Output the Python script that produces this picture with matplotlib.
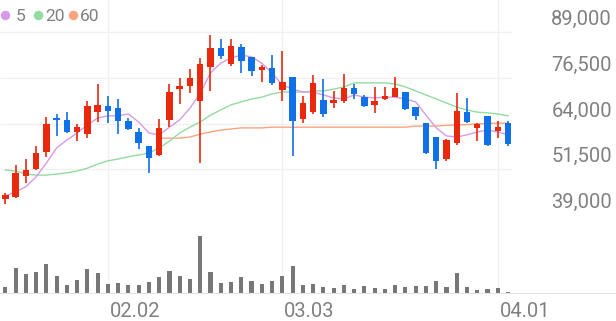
import matplotlib.pyplot as plt
import matplotlib.transforms as mtransforms
from matplotlib.lines import Line2D
import numpy as np

# 일봉 데이터 (시가, 고가, 저가, 종가)
opens  = [43400, 43900, 49700, 51600, 56200, 65500, 65000, 61700, 61100, 67100,
          68800, 68200, 64700, 61700, 57900, 55400, 65000, 73400, 74200, 70100,
          79400, 84600, 80300, 84900, 82200, 78600, 79200, 73200, 76700, 65200,
          67100, 70400, 69600, 70100, 73700, 71200, 69100, 70700, 71200, 72600,
          68500, 64100, 60300, 54300, 58700, 67100, 62800, 66100, 62000, 64100]
highs  = [45000, 52700, 54300, 57900, 65800, 66600, 67100, 63900, 70100, 74800,
          71500, 70700, 65500, 62800, 57900, 65200, 74800, 76400, 78900, 81900,
          88200, 87100, 87100, 85700, 82200, 80000, 82700, 83800, 76700, 71500,
          77300, 76200, 72900, 77500, 74800, 71800, 74000, 74000, 76700, 72600,
          68500, 64100, 60300, 59800, 72300, 71000, 64100, 66100, 64700, 64700]
lows   = [42000, 43600, 47700, 51300, 54900, 60600, 61400, 59200, 60000, 64400,
          64100, 61100, 62200, 57000, 50500, 55100, 63000, 69300, 72300, 53200,
          72900, 81600, 79700, 77800, 77000, 75300, 74500, 70100, 55100, 64100,
          66600, 65800, 68200, 69600, 70700, 68500, 66900, 70400, 71200, 67800,
          65000, 55700, 51600, 53800, 58100, 64100, 59200, 57900, 60000, 57900]
closes = [44500, 50500, 51300, 55900, 63900, 65000, 61700, 63000, 68800, 69100,
          67400, 64700, 62500, 58700, 54600, 62800, 72600, 74200, 76400, 80300,
          84600, 82400, 85200, 81100, 78300, 79400, 75100, 75300, 64700, 69600,
          75100, 66600, 70400, 73700, 72100, 68800, 70100, 71500, 73700, 68000,
          66100, 55900, 53800, 59500, 67400, 64400, 63900, 58100, 63000, 58400]
# 거래량 (천주)
volumes = [600, 2560, 1970, 2130, 2930, 1730, 800, 1330, 2400, 2030,
           900, 1030, 800, 800, 1170, 1630, 2230, 1730, 1400, 5770,
           2170, 1030, 1170, 1600, 1200, 900, 1200, 1730, 2770, 800,
           970, 600, 570, 800, 430, 730, 500, 430, 800, 630,
           700, 770, 1270, 600, 2030, 600, 330, 400, 500, 170]

# 이동평균선
ma5 = [44200, 45300, 46700, 49400, 53200, 57300, 59500, 61400, 63600, 65500,
       66100, 66100, 66600, 64400, 61400, 60900, 63000, 65000, 68200, 72300,
       77800, 80500, 81900, 82700, 82200, 80500, 77800, 74500, 73400, 72600,
       72600, 71800, 71000, 70700, 71800, 71200, 71000, 71200, 71200, 70700,
       69900, 66300, 62800, 60600, 60300, 60900, 61700, 62200, 61700, 60900]
ma20 = [51300, 51000, 50200, 49900, 49900, 50200, 50500, 51000, 51800, 52900,
        53800, 54300, 54900, 55400, 55900, 57300, 59200, 61400, 63000, 64400,
        66300, 67700, 69100, 69900, 70700, 71200, 72100, 72600, 72600, 72600,
        72900, 72900, 73400, 74000, 75100, 75100, 75100, 75100, 74800, 74000,
        72900, 71800, 70700, 69600, 68500, 67700, 67100, 66900, 66600, 66100]
ma60 = [None] * 15 + [
        60000, 60000, 60000, 60300, 61100, 61700, 62200, 62500, 62800, 62800,
        62800, 63000, 63000, 63000, 63000, 63000, 63000, 63000, 63000, 63000,
        63000, 63000, 63000, 63000, 63000, 63300, 63300, 63300, 63500, 63600,
        63700, 63900, 64000, 64100, 64100]

ytick_vals = [39000, 51500, 64000, 76500, 89000]
xtick_pos = [10, 27, 48]
xtick_labels = ['02.02', '03.03', '04.01']

RED = '#e8290e'
BLUE = '#1070e8'
GRID = '#f0f0f0'
TXT = '#808080'
FONT = 'Roboto'

W, H = 616, 321
fig = plt.figure(figsize=(W / 100, H / 100), dpi=100)

step = 10.26
x0 = 5.3
xmin = -x0 / step
xmax = (W - x0) / step
grid_end = (512 - x0) / step

# 가격 패널
ax = fig.add_axes([0, (H - 215) / H, 1, 215 / H])
ax.set_xlim(xmin, xmax)
ppx = 50000 / 183
ax.set_ylim(39000, 89000 + 32 * ppx)
for s in ['top', 'left', 'right']:
    ax.spines[s].set_visible(False)
ax.spines['bottom'].set_color('#e4e4e4')
ax.set_xticks([])
ax.set_yticks([])
ax.hlines(ytick_vals[1:], xmin, grid_end, color=GRID, lw=1, zorder=0)
for p in xtick_pos:
    ax.axvline(p, color=GRID, lw=1, zorder=0)

idx = np.arange(len(closes))
ax.plot(idx, ma60, color='#f8a47f', lw=1.0, zorder=1)
ax.plot(idx, ma20, color='#94dba0', lw=1.0, zorder=1)
ax.plot(idx, ma5, color='#d79aea', lw=1.0, zorder=1)

for i in idx:
    o, h, l, c = opens[i], highs[i], lows[i], closes[i]
    col = RED if c >= o else BLUE
    ax.vlines(i, l, h, color=col, lw=1.2, zorder=2)
    ax.bar(i, max(abs(c - o), 350), bottom=min(o, c), width=0.63,
           color=col, zorder=3)

lab_tr = mtransforms.offset_copy(
    mtransforms.blended_transform_factory(ax.transAxes, ax.transData),
    fig=fig, x=0, y=7, units='dots')
for v in ytick_vals:
    ax.text(612 / W, v, f'{v:,}', transform=lab_tr, ha='right', va='baseline',
            fontsize=14.5, color=TXT, family=FONT)

# 범례
leg = [('5', '#d79aea', 4.5, 16), ('20', '#94dba0', 37.5, 45), ('60', '#f8a47f', 72.7, 80)]
for name, col, dx, tx in leg:
    fig.add_artist(Line2D([dx / W], [1 - 15 / H], marker='o', markersize=5.8,
                          color=col, transform=fig.transFigure))
    fig.text(tx / W, 1 - 21 / H, name, ha='left', va='baseline',
             fontsize=12.5, color=TXT, family=FONT)

# 거래량 패널
axv = fig.add_axes([0, (H - 293.3) / H, 1, 78.3 / H])
axv.set_xlim(xmin, xmax)
axv.set_ylim(0, 7830)
for s in ['top', 'left', 'right']:
    axv.spines[s].set_visible(False)
axv.spines['bottom'].set_color('#e4e4e4')
axv.set_xticks([])
axv.set_yticks([])
for p in xtick_pos:
    axv.axvline(p, color=GRID, lw=1, zorder=0)
axv.bar(idx, volumes, width=0.4, color='#777777', zorder=2)

for p, lab in zip(xtick_pos, xtick_labels):
    axv.text(p + 2 / step, -23.7 / 78.3, lab, transform=axv.get_xaxis_transform(),
             ha='left', va='baseline', fontsize=14.5, color=TXT, family=FONT)

fig.savefig('out.png', dpi=100)
